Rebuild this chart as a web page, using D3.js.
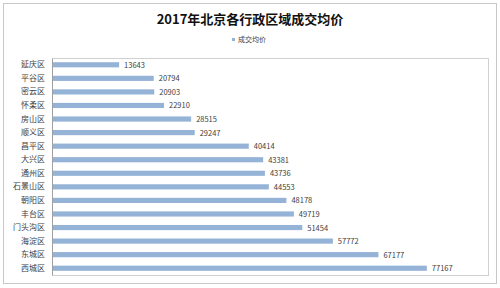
<!DOCTYPE html>
<html>
<head>
<meta charset="utf-8">
<script src="https://cdn.jsdelivr.net/npm/d3@7"></script>
<style>
  body { margin: 0; background: #fff; }
  svg text { font-family: "Noto Sans CJK SC", sans-serif; }
</style>
</head>
<body>
<script>
var districts = ['延庆区', '平谷区', '密云区', '怀柔区', '房山区', '顺义区', '昌平区', '大兴区',
  '通州区', '石景山区', '朝阳区', '丰台区', '门头沟区', '海淀区', '东城区', '西城区']
var prices = [13643, 20794, 20903, 22910, 28515, 29247, 40414, 43381,
  43736, 44553, 48178, 49719, 51454, 57772, 67177, 77167]
var seriesName = '成交均价'
var chartTitle = '2017年北京各行政区域成交均价'

var width = 500
var height = 288
var plot = { left: 52, top: 58, right: 488, bottom: 275 }

var svg = d3.select('body').append('svg')
  .attr('width', width)
  .attr('height', height)

// outer frame
svg.append('rect')
  .attr('x', 3.5).attr('y', 3.5)
  .attr('width', width - 7).attr('height', height - 8)
  .style('fill', '#fff')
  .style('stroke', '#c8c8c8')

svg.append('text')
  .attr('x', width / 2)
  .attr('y', 24)
  .attr('text-anchor', 'middle')
  .style('font-size', '13px')
  .style('font-weight', 'bold')
  .style('fill', '#111')
  .text(chartTitle)

var legend = svg.append('g').attr('transform', 'translate(232,42)')
legend.append('rect')
  .attr('x', 0).attr('y', -4).attr('width', 3).attr('height', 3)
  .style('fill', '#95b3d7')
legend.append('text')
  .attr('x', 6).attr('y', 0)
  .style('font-size', '7px')
  .style('fill', '#404040')
  .text(seriesName)

// plot area border
svg.append('rect')
  .attr('x', plot.left + 0.5).attr('y', plot.top + 0.5)
  .attr('width', plot.right - plot.left).attr('height', plot.bottom - plot.top)
  .style('fill', 'none')
  .style('stroke', '#d0d0d0')

var x = d3.scaleLinear().domain([0, 90000]).range([plot.left, plot.right])
var y = d3.scaleBand().domain(districts).range([plot.top, plot.bottom]).paddingInner(0.62).paddingOuter(0.31)

svg.append('g')
  .attr('transform', 'translate(' + plot.left + ',0)')
  .call(d3.axisLeft(y).tickSize(0).tickPadding(7))
  .call(function (g) {
    g.select('.domain').attr('stroke', '#a0a0a0')
    g.selectAll('text')
      .style('font-size', '8px')
      .style('fill', '#404040')
      .style('font-family', '"Noto Sans CJK SC", sans-serif')
  })

svg.append('g').selectAll('rect')
  .data(districts)
  .enter().append('rect')
  .attr('x', x(0) + 1)
  .attr('y', function (d) { return y(d) })
  .attr('width', function (d, i) { return x(prices[i]) - x(0) })
  .attr('height', y.bandwidth())
  .style('fill', '#95b3d7')

svg.append('g').selectAll('text')
  .data(districts)
  .enter().append('text')
  .attr('x', function (d, i) { return x(prices[i]) + 6 })
  .attr('y', function (d) { return y(d) + y.bandwidth() / 2 + 3 })
  .style('font-size', '7.5px')
  .style('fill', '#404040')
  .text(function (d, i) { return prices[i] })
</script>
</body>
</html>
